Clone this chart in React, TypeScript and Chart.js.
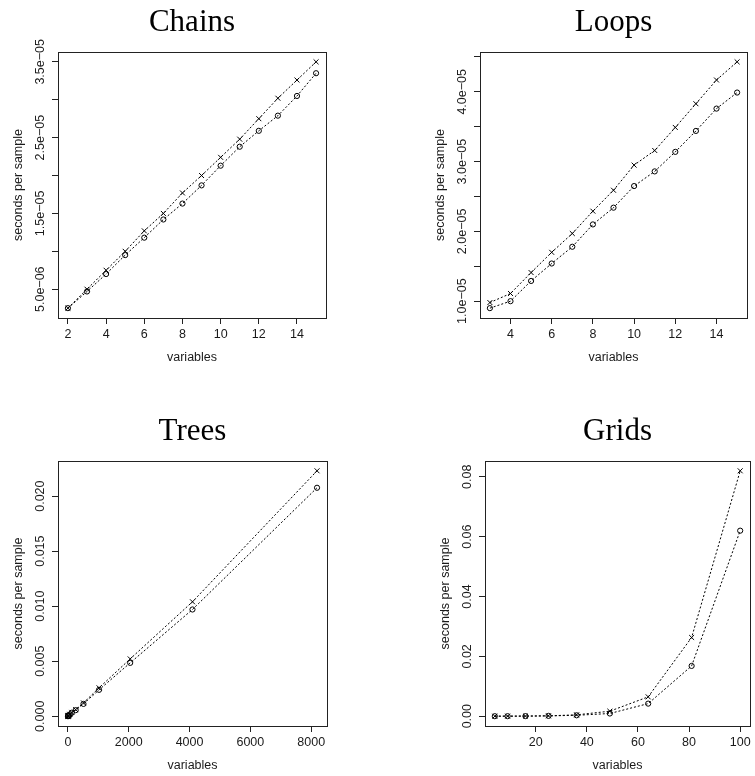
import React, { useEffect, useRef } from "react";
import { Chart, registerables } from "chart.js";

Chart.register(...registerables);

// ---------- data ----------
const chainsVars = [2, 3, 4, 5, 6, 7, 8, 9, 10, 11, 12, 13, 14, 15];
const chainsCross = [2.5e-6, 5.0e-6, 7.5e-6, 1.0e-5, 1.27e-5, 1.5e-5, 1.77e-5, 2.0e-5, 2.24e-5, 2.48e-5, 2.75e-5, 3.02e-5, 3.26e-5, 3.5e-5];
const chainsCircle = [2.5e-6, 4.7e-6, 7.0e-6, 9.5e-6, 1.18e-5, 1.42e-5, 1.63e-5, 1.87e-5, 2.13e-5, 2.38e-5, 2.59e-5, 2.79e-5, 3.05e-5, 3.35e-5];
const chainsXTicks = [2, 4, 6, 8, 10, 12, 14];
const chainsXLabels = ["2", "4", "6", "8", "10", "12", "14"];
const chainsYTicks = [5e-6, 1e-5, 1.5e-5, 2e-5, 2.5e-5, 3e-5, 3.5e-5];
const chainsYLabels = ["5.0e\u221206", "", "1.5e\u221205", "", "2.5e\u221205", "", "3.5e\u221205"];

const loopsVars = [3, 4, 5, 6, 7, 8, 9, 10, 11, 12, 13, 14, 15];
const loopsCross = [9.8e-6, 1.11e-5, 1.41e-5, 1.7e-5, 1.97e-5, 2.29e-5, 2.59e-5, 2.95e-5, 3.16e-5, 3.49e-5, 3.83e-5, 4.17e-5, 4.43e-5];
const loopsCircle = [9.0e-6, 1.0e-5, 1.29e-5, 1.54e-5, 1.78e-5, 2.1e-5, 2.34e-5, 2.65e-5, 2.86e-5, 3.14e-5, 3.44e-5, 3.76e-5, 3.99e-5];
const loopsXTicks = [4, 6, 8, 10, 12, 14];
const loopsXLabels = ["4", "6", "8", "10", "12", "14"];
const loopsYTicks = [1e-5, 1.5e-5, 2e-5, 2.5e-5, 3e-5, 3.5e-5, 4e-5, 4.5e-5];
const loopsYLabels = ["1.0e\u221205", "", "2.0e\u221205", "", "3.0e\u221205", "", "4.0e\u221205", ""];

const treesVars = [2, 4, 8, 16, 32, 64, 128, 256, 512, 1024, 2048, 4096, 8192];
const treesCross = [5.5e-6, 1.1e-5, 2.2e-5, 4.4e-5, 8.8e-5, 1.75e-4, 3.5e-4, 6.0e-4, 1.21e-3, 2.58e-3, 5.21e-3, 1.04e-2, 2.23e-2];
const treesCircle = [5.0e-6, 1.0e-5, 2.0e-5, 4.0e-5, 8.0e-5, 1.6e-4, 3.2e-4, 5.5e-4, 1.12e-3, 2.4e-3, 4.85e-3, 9.7e-3, 2.076e-2];
const treesXTicks = [0, 2000, 4000, 6000, 8000];
const treesXLabels = ["0", "2000", "4000", "6000", "8000"];
const treesYTicks = [0, 0.005, 0.01, 0.015, 0.02];
const treesYLabels = ["0.000", "0.005", "0.010", "0.015", "0.020"];

const gridsVars = [4, 9, 16, 25, 36, 49, 64, 81, 100];
const gridsCross = [2e-6, 1e-5, 3.5e-5, 1.2e-4, 4.5e-4, 1.67e-3, 6.46e-3, 2.63e-2, 8.2e-2];
const gridsCircle = [2e-6, 9e-6, 3e-5, 1e-4, 3e-4, 9e-4, 4.2e-3, 1.68e-2, 6.2e-2];
const gridsXTicks = [20, 40, 60, 80, 100];
const gridsXLabels = ["20", "40", "60", "80", "100"];
const gridsYTicks = [0, 0.02, 0.04, 0.06, 0.08];
const gridsYLabels = ["0.00", "0.02", "0.04", "0.06", "0.08"];

const panelTitles = ["Chains", "Loops", "Trees", "Grids"];
const xTitle = "variables";
const yTitle = "seconds per sample";

// ---------- layout (canvas-relative plot boxes) ----------
type Panel = {
  title: string;
  vars: number[];
  cross: number[];
  circle: number[];
  xTicks: number[];
  xLabels: string[];
  yTicks: number[];
  yLabels: string[];
  x0: number; y0: number; w: number; h: number;
  L: number; T: number; R: number; B: number;
};

const panels: Panel[] = [
  { title: panelTitles[0], vars: chainsVars, cross: chainsCross, circle: chainsCircle, xTicks: chainsXTicks, xLabels: chainsXLabels, yTicks: chainsYTicks, yLabels: chainsYLabels,
    x0: 0, y0: 0, w: 377, h: 388, L: 58, T: 52, R: 326, B: 318 },
  { title: panelTitles[1], vars: loopsVars, cross: loopsCross, circle: loopsCircle, xTicks: loopsXTicks, xLabels: loopsXLabels, yTicks: loopsYTicks, yLabels: loopsYLabels,
    x0: 377, y0: 0, w: 378, h: 388, L: 103, T: 52, R: 370, B: 318 },
  { title: panelTitles[2], vars: treesVars, cross: treesCross, circle: treesCircle, xTicks: treesXTicks, xLabels: treesXLabels, yTicks: treesYTicks, yLabels: treesYLabels,
    x0: 0, y0: 388, w: 377, h: 388, L: 58, T: 73, R: 327, B: 338 },
  { title: panelTitles[3], vars: gridsVars, cross: gridsCross, circle: gridsCircle, xTicks: gridsXTicks, xLabels: gridsXLabels, yTicks: gridsYTicks, yLabels: gridsYLabels,
    x0: 377, y0: 388, w: 378, h: 388, L: 108, T: 73, R: 376, B: 338 },
];

const SANS = "'Liberation Sans', Arial, sans-serif";
const SERIF = "'Liberation Serif', 'Times New Roman', serif";
const FS = 12.5;

function range4(vals: number[]) {
  let mn = Infinity, mx = -Infinity;
  for (const v of vals) { if (v < mn) mn = v; if (v > mx) mx = v; }
  const d = (mx - mn) * 0.04;
  return { min: mn - d, max: mx + d };
}

function PanelChart({ p }: { p: Panel }) {
  const ref = useRef<HTMLCanvasElement | null>(null);
  useEffect(() => {
    const canvas = ref.current;
    if (!canvas) return;
    const xr = range4(p.vars);
    const yr = range4([...p.cross, ...p.circle]);

    const decor = {
      id: "rdecor",
      afterDraw(chart: any) {
        const ctx = chart.ctx as CanvasRenderingContext2D;
        const a = chart.chartArea;
        const ys = chart.scales.y;
        ctx.save();
        // box
        ctx.strokeStyle = "#222";
        ctx.lineWidth = 1;
        ctx.strokeRect(Math.round(a.left) + 0.5, Math.round(a.top) + 0.5, Math.round(a.right) - Math.round(a.left), Math.round(a.bottom) - Math.round(a.top));
        // y tick labels (rotated, like R)
        ctx.fillStyle = "#1a1a1a";
        ctx.font = `${FS}px ${SANS}`;
        ctx.textAlign = "center";
        ctx.textBaseline = "middle";
        p.yTicks.forEach((v, i) => {
          const lab = p.yLabels[i];
          if (!lab) return;
          const py = ys.getPixelForValue(v);
          ctx.save();
          ctx.translate(a.left - 17, py);
          ctx.rotate(-Math.PI / 2);
          ctx.fillText(lab, 0, 0);
          ctx.restore();
        });
        // y axis title
        ctx.save();
        ctx.translate(a.left - 39.5, (a.top + a.bottom) / 2);
        ctx.rotate(-Math.PI / 2);
        ctx.fillText(yTitle, 0, 0);
        ctx.restore();
        // x axis title
        ctx.fillText(xTitle, (a.left + a.right) / 2, a.bottom + 39.5);
        // main title
        ctx.font = `31px ${SERIF}`;
        ctx.textBaseline = "alphabetic";
        ctx.fillStyle = "#000";
        ctx.fillText(p.title, (a.left + a.right) / 2, a.top - 21);
        ctx.restore();
      },
    };

    const lineCommon = {
      borderColor: "#000",
      borderWidth: 1,
      borderDash: [2, 2],
      pointBorderColor: "#000",
      pointBackgroundColor: "rgba(0,0,0,0)",
      pointBorderWidth: 1,
      fill: false,
      tension: 0,
    };

    const chart = new Chart(canvas, {
      type: "line",
      data: {
        datasets: [
          { ...lineCommon, label: "cross", data: p.vars.map((v, i) => ({ x: v, y: p.cross[i] })), pointStyle: "crossRot", pointRadius: 3.5 },
          { ...lineCommon, label: "circle", data: p.vars.map((v, i) => ({ x: v, y: p.circle[i] })), pointStyle: "circle", pointRadius: 2.6 },
        ],
      } as any,
      options: {
        responsive: false,
        animation: false,
        events: [],
        layout: { padding: { top: p.T, right: p.w - p.R, bottom: 0, left: 0 } },
        plugins: { legend: { display: false }, title: { display: false }, tooltip: { enabled: false } },
        scales: {
          x: {
            type: "linear",
            position: "bottom",
            min: xr.min,
            max: xr.max,
            bounds: "data",
            afterBuildTicks: (s: any) => { s.ticks = p.xTicks.map((v) => ({ value: v })); },
            afterFit: (s: any) => { s.height = p.h - p.B; s.paddingLeft = 0; s.paddingRight = 0; s.paddingTop = 0; s.paddingBottom = 0; },
            grid: { drawOnChartArea: false, drawTicks: true, tickLength: 6, color: "#222", lineWidth: 1 },
            border: { display: false },
            ticks: {
              autoSkip: false, maxRotation: 0, minRotation: 0, padding: 3.5, color: "#1a1a1a",
              font: { family: SANS, size: FS },
              callback: (_v: any, i: number) => p.xLabels[i],
            },
          },
          y: {
            type: "linear",
            position: "left",
            min: yr.min,
            max: yr.max,
            bounds: "data",
            afterBuildTicks: (s: any) => { s.ticks = p.yTicks.map((v) => ({ value: v })); },
            afterFit: (s: any) => { s.width = p.L; s.paddingLeft = 0; s.paddingRight = 0; s.paddingTop = 0; s.paddingBottom = 0; },
            grid: { drawOnChartArea: false, drawTicks: true, tickLength: 6, color: "#222", lineWidth: 1 },
            border: { display: false },
            ticks: { display: false },
          },
        },
      } as any,
      plugins: [decor],
    });
    return () => chart.destroy();
  }, [p]);

  return (
    <canvas
      ref={ref}
      width={p.w}
      height={p.h}
      style={{ position: "absolute", left: p.x0, top: p.y0, width: p.w, height: p.h, display: "block" }}
    />
  );
}

export default function App() {
  return (
    <div style={{ position: "absolute", left: 0, top: 0, width: 755, height: 776, background: "#fff" }}>
      {panels.map((p) => (
        <PanelChart key={p.title} p={p} />
      ))}
    </div>
  );
}
